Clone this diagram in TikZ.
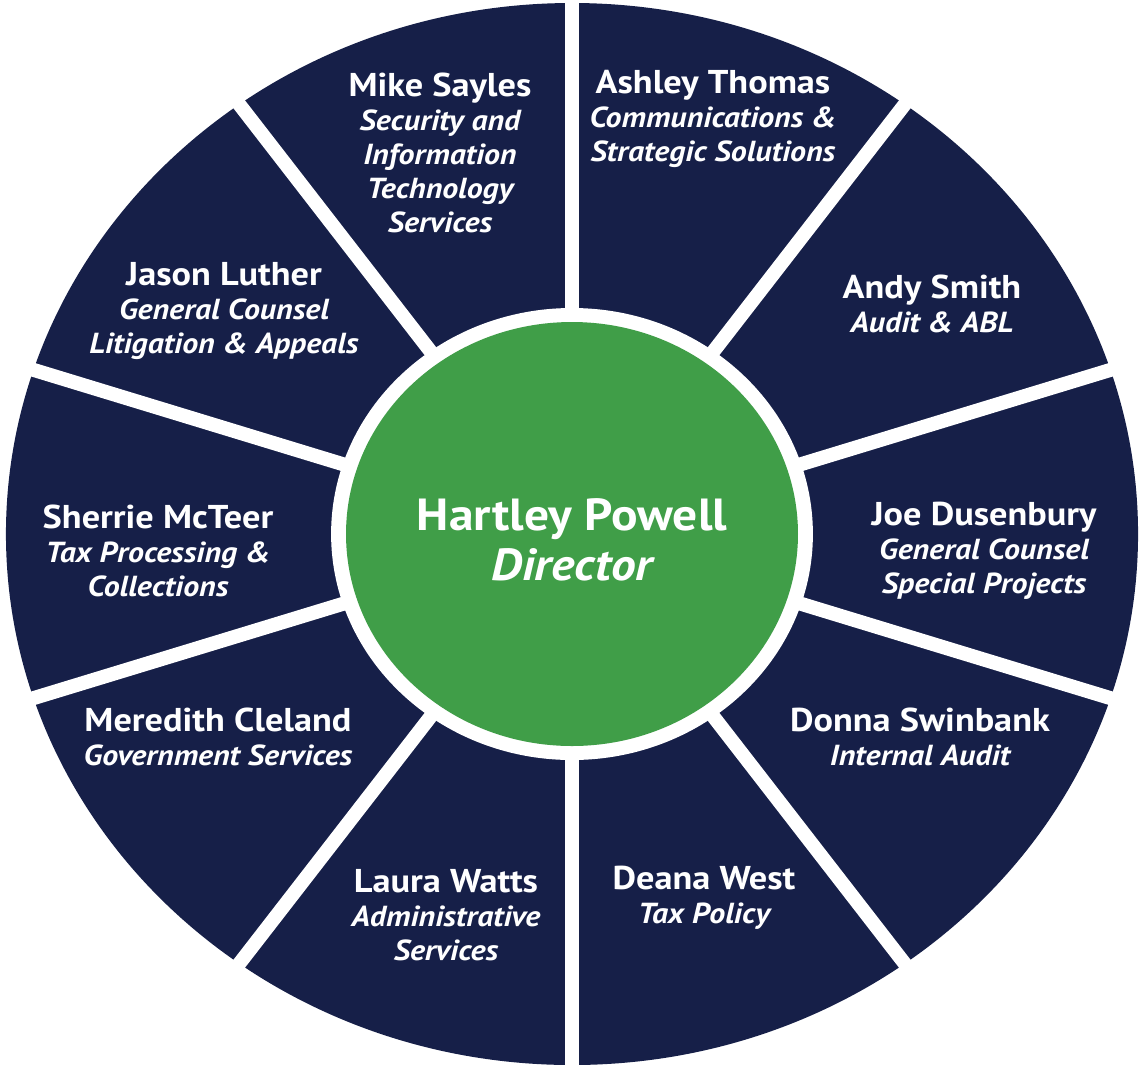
\documentclass[tikz,border=0pt]{standalone}
\usepackage{fontspec}
\setmainfont{PT Sans}[FakeStretch=1.1]
\definecolor{navy}{RGB}{22,31,72}
\definecolor{leaf}{RGB}{64,158,72}
\newcommand{\nm}[1]{{\fontsize{16.5}{17}\selectfont #1}}
\begin{document}
\begin{tikzpicture}[x=0.5pt,y=-0.5pt,
  seg/.style={text=white,align=center,font=\fontsize{14.5}{17}\selectfont\bfseries},
  hub/.style={text=white,align=center,font=\fontsize{22.5}{25}\selectfont\bfseries}]
\useasboundingbox (0,0) rectangle (1140,1067);
\fill[white] (0,0) rectangle (1140,1067);
\begin{scope}[shift={(572,534)},xscale=1.066]
  \fill[navy] (0,0) circle (531);
  \foreach \a in {90,54,18,-18,-54,-90,-126,-162,162,126}
    \draw[white,line width=7pt] (0,0) -- (\a:620);
  \fill[white] (0,0) circle (226);
  \fill[leaf] (0,0) circle (212);
\end{scope}
\node[hub] (hp) at (572,540) {Hartley Powell\\\itshape Director};
\node[seg] (ms) at (440,153) {\nm{Mike Sayles}\\\itshape Security and\\\itshape Information\\\itshape Technology\\\itshape Services};
\node[seg] (at) at (713,119) {\nm{Ashley Thomas}\\\itshape Communications \&\\\itshape Strategic Solutions};
\node[seg] (as) at (932,304) {\nm{Andy Smith}\\\itshape Audit \& ABL};
\node[seg] (jd) at (984,551) {\nm{Joe Dusenbury}\\\itshape General Counsel\\\itshape Special Projects};
\node[seg] (ds) at (920,737) {\nm{Donna Swinbank}\\\itshape Internal Audit};
\node[seg] (dw) at (704,898) {\nm{Deana West}\\\itshape Tax Policy};
\node[seg] (lw) at (446,915) {\nm{Laura Watts}\\\itshape Administrative\\\itshape Services};
\node[seg] (mc) at (218,737) {\nm{Meredith Cleland}\\\itshape Government Services};
\node[seg] (sm) at (158,551) {\nm{Sherrie McTeer}\\\itshape Tax Processing \&\\\itshape Collections};
\node[seg] (jl) at (224,311) {\nm{Jason Luther}\\\itshape General Counsel\\\itshape Litigation \& Appeals};
\end{tikzpicture}
\end{document}
